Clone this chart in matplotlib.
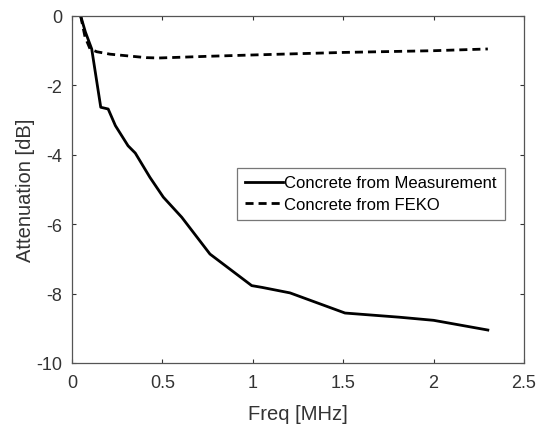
import numpy as np
import matplotlib.pyplot as plt

plt.rcParams['font.family'] = ['Liberation Sans', 'DejaVu Sans']

# Concrete attenuation, measured
f_meas = [0.048, 0.074, 0.109, 0.159, 0.20, 0.24, 0.31, 0.35, 0.431, 0.505,
          0.607, 0.763, 0.994, 1.05, 1.206, 1.51, 1.81, 2.0, 2.3]
att_meas = [0.0, -0.46, -0.95, -2.63, -2.68, -3.16, -3.74, -3.95, -4.65, -5.22,
            -5.80, -6.86, -7.77, -7.82, -7.98, -8.56, -8.68, -8.77, -9.05]

# Concrete attenuation, FEKO simulation
f_feko = [0.048, 0.072, 0.10, 0.137, 0.21, 0.41, 0.48, 0.76, 1.02, 1.5, 2.0, 2.3]
att_feko = [0.0, -0.6, -0.95, -1.03, -1.10, -1.20, -1.21, -1.16, -1.12, -1.05, -1.0, -0.95]

txt = '#333333'

fig = plt.figure(figsize=(5.39, 4.27), dpi=100)
ax = fig.add_axes([72 / 539, 1 - 364 / 427, (524 - 72) / 539, (364 - 17) / 427])

ax.plot(f_meas, att_meas, color='black', lw=2, label='Concrete from Measurement')
ax.plot(f_feko, att_feko, color='black', lw=2, ls=(0, (2.9, 1.8)), label='Concrete from FEKO')

ax.set_xlim(0, 2.5)
ax.set_ylim(-10, 0)
ax.set_xticks([0, 0.5, 1, 1.5, 2, 2.5])
ax.set_xticklabels(['0', '0.5', '1', '1.5', '2', '2.5'])
ax.set_yticks([-10, -8, -6, -4, -2, 0])
ax.set_yticklabels(['-10', '-8', '-6', '-4', '-2', '0'])
ax.tick_params(direction='in', length=3, top=True, right=True, labelsize=13,
               colors=txt)
ax.tick_params(axis='x', pad=8)
ax.tick_params(axis='y', pad=7)
for s in ax.spines.values():
    s.set_color('#555555')
    s.set_linewidth(0.9)

ax.set_xlabel('Freq [MHz]', fontsize=14.5, color=txt, labelpad=9)
ax.set_ylabel('Attenuation [dB]', fontsize=14.5, color=txt, labelpad=1)

leg = ax.legend(loc='upper left', bbox_to_anchor=((237 - 72) / 452, 1 - (169 - 17) / 347),
                fontsize=12, frameon=True, fancybox=False, edgecolor='#555555',
                borderpad=0.45, handlelength=2.3, handletextpad=0.1, labelspacing=0.4,
                borderaxespad=0)
leg.get_frame().set_linewidth(0.9)

fig.savefig('out.png', dpi=100)
